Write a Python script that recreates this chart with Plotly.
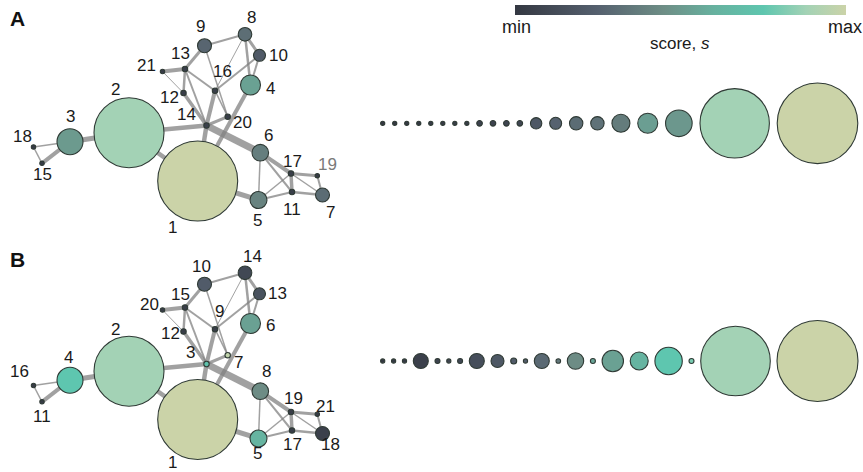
import plotly.graph_objects as go

# ---- node layout (shared by both panels), pixel units ----
node_x = [197.7, 129.0, 70.0, 250.5, 258.5, 260.3, 322.5, 245.0, 204.5, 259.5, 292.0,
          183.5, 185.0, 206.5, 42.0, 215.0, 291.0, 33.5, 317.3, 227.7, 162.5]
node_y = [181.0, 132.7, 141.7, 85.0, 200.0, 152.7, 195.0, 34.3, 45.7, 55.3, 192.0,
          93.0, 69.0, 125.5, 163.3, 90.7, 173.5, 147.0, 175.7, 116.7, 71.5]
# node radius (px)
node_r = [40, 35, 13, 10, 8.5, 8.3, 7, 6.8, 7, 6, 2.7,
          2.7, 2.7, 2.7, 2.2, 2.7, 2.7, 2.2, 2.2, 2.7, 2.2]

# ---- node labels and scores per panel ----
labels_A = [str(i) for i in range(1, 22)]
labels_B = ["1", "2", "4", "6", "5", "8", "18", "14", "10", "13", "17",
            "12", "15", "3", "11", "9", "19", "16", "21", "7", "20"]
score_A = [1.0, 0.88, 0.50, 0.53, 0.40, 0.38, 0.30, 0.31, 0.27, 0.21, 0.04,
           0.04, 0.04, 0.05, 0.02, 0.04, 0.04, 0.02, 0.02, 0.04, 0.02]
score_B = [1.0, 0.88, 0.75, 0.53, 0.62, 0.44, 0.05, 0.10, 0.22, 0.16, 0.03,
           0.03, 0.03, 0.72, 0.02, 0.03, 0.03, 0.02, 0.02, 0.97, 0.02]

# ---- edges (1-based node indices) with line widths ----
edges = [(18, 15, 1.5), (18, 3, 1.5), (15, 3, 4), (3, 2, 5), (2, 14, 4.5), (2, 1, 4.5),
         (14, 1, 4.5), (16, 14, 4), (4, 1, 4), (14, 6, 7), (14, 20, 3), (16, 20, 1.5),
         (12, 14, 3.5), (13, 12, 2.5), (13, 14, 2), (13, 16, 2), (21, 13, 4), (21, 12, 1),
         (9, 13, 3), (9, 8, 2), (9, 20, 1.5), (8, 16, 1), (8, 4, 2.5), (8, 10, 3),
         (10, 4, 2), (10, 16, 2), (6, 17, 4), (6, 5, 1.5), (6, 11, 2), (17, 11, 3.5),
         (17, 19, 3), (17, 7, 1.5), (19, 7, 2), (17, 5, 1.5), (11, 5, 2), (11, 7, 2.5),
         (5, 1, 5)]

# ---- label offsets from node centre (px) ----
lab_dx_A = [-25, -14, 0, 20, -1, 8, 8, 6, -4, 19, 0, -14, -5, -20, 0, 7, 1, -11, 10, 15, -16]
lab_dy_A = [46, -43, -25, 3, 20, -17, 17, -17, -19, 0, 17, 4, -16, -11, 11, -19, -12, -11, -11, 6, -6]
lab_dx_B = [-25, -14, -2, 20, -1, 6, 8, 7, -3, 18, 0, -13, -5, -16, 0, 4, 2, -14, 8, 11, -13]
lab_dy_B = [43, -42, -23, 2, 15, -20, 11, -16, -18, 0, 14, 2, -13, -12, 15, -18, -14, -14, -8, 7, -6]
lab_col_A = ["#1a1a1a"] * 18 + ["#7a7a7a"] + ["#1a1a1a"] * 2
lab_col_B = ["#1a1a1a"] * 21

# ---- ranked score rows (radius, score) ----
row_r_A = [2.1, 2.1, 2.1, 2.1, 2.1, 2.1, 2.1, 2.1, 2.8, 2.8, 2.8, 2.8,
           5.7, 6, 6.7, 6.7, 9, 10, 13.3, 34.7, 40.3]
row_s_A = [0.0, 0.0, 0.01, 0.01, 0.02, 0.02, 0.03, 0.03, 0.06, 0.07, 0.08, 0.09,
           0.20, 0.26, 0.30, 0.33, 0.37, 0.52, 0.49, 0.88, 1.0]
row_r_B = [2.1, 2.1, 2.1, 7.5, 2.5, 2.1, 2.5, 7.5, 6.5, 3, 2.1, 7.5, 2.3, 8.2, 2.5,
           10.7, 9, 13.7, 2.5, 34.8, 40.5]
row_s_B = [0.0, 0.01, 0.02, 0.05, 0.07, 0.08, 0.1, 0.14, 0.2, 0.22, 0.24, 0.29, 0.35,
           0.44, 0.55, 0.53, 0.62, 0.75, 0.8, 0.88, 1.0]

colorscale = [[0.0, "#343842"], [0.25, "#55606e"], [0.45, "#6e8e86"], [0.6, "#67b19f"],
              [0.75, "#5ec6af"], [0.88, "#a3d2b5"], [1.0, "#cbd3a8"]]

W, H = 863, 472
panel_dy = {"A": 0.0, "B": 238.5}
row_y = {"A": 123.3, "B": 361.0}
row_x0, row_x1 = 382.7, 817.5
bar_x0, bar_x1 = 515, 846
OUTLINE = "#2f3a35"

fig = go.Figure()


def add_network(tag, labels, scores, dxs, dys, cols):
    oy = panel_dy[tag]
    for a, b, w in edges:
        fig.add_trace(go.Scatter(
            x=[node_x[a - 1], node_x[b - 1]], y=[node_y[a - 1] + oy, node_y[b - 1] + oy],
            mode="lines", line=dict(color="rgba(130,130,130,0.75)", width=w),
            hoverinfo="skip", showlegend=False))
    fig.add_trace(go.Scatter(
        x=node_x, y=[v + oy for v in node_y], mode="markers",
        marker=dict(size=[2 * r for r in node_r], color=scores, coloraxis="coloraxis",
                    line=dict(color=OUTLINE, width=1.1), opacity=1),
        hoverinfo="skip", showlegend=False))
    for i, t in enumerate(labels):
        fig.add_annotation(x=node_x[i] + dxs[i], y=node_y[i] + oy + dys[i], text=t,
                           showarrow=False, font=dict(size=17, color=cols[i]),
                           xanchor="center", yanchor="middle")


def add_row(tag, radii, scores):
    n = len(radii)
    span = sum(radii[i] + radii[i + 1] for i in range(n - 1))
    gap = (row_x1 - row_x0 - span) / (n - 1)
    xs = [row_x0]
    for i in range(1, n):
        xs.append(xs[-1] + radii[i - 1] + radii[i] + gap)
    fig.add_trace(go.Scatter(
        x=xs, y=[row_y[tag]] * n, mode="markers",
        marker=dict(size=[2 * r for r in radii], color=scores, coloraxis="coloraxis",
                    line=dict(color=OUTLINE, width=1.1), opacity=1),
        hoverinfo="skip", showlegend=False))


add_network("A", labels_A, score_A, lab_dx_A, lab_dy_A, lab_col_A)
add_network("B", labels_B, score_B, lab_dx_B, lab_dy_B, lab_col_B)
add_row("A", row_r_A, row_s_A)
add_row("B", row_r_B, row_s_B)

for tag, y in (("A", 18), ("B", 259)):
    fig.add_annotation(x=17, y=y, text="<b>%s</b>" % tag, showarrow=False,
                       font=dict(size=21, color="#111111"), xanchor="center", yanchor="middle")

# colour bar end labels and caption
fig.add_annotation(x=bar_x0 + 1, y=27, text="min", showarrow=False,
                   font=dict(size=18, color="#1a1a1a"), xanchor="center", yanchor="middle")
fig.add_annotation(x=bar_x1 - 1, y=27, text="max", showarrow=False,
                   font=dict(size=18, color="#1a1a1a"), xanchor="center", yanchor="middle")
fig.add_annotation(x=680, y=43, text="score, <i>s</i>", showarrow=False,
                   font=dict(size=17, color="#1a1a1a"), xanchor="center", yanchor="middle")

fig.update_layout(
    width=W, height=H, margin=dict(l=0, r=0, t=0, b=0),
    paper_bgcolor="white", plot_bgcolor="white",
    font=dict(family="Liberation Sans, Arial, sans-serif", color="#1a1a1a"),
    xaxis=dict(range=[0, W], visible=False, fixedrange=True),
    yaxis=dict(range=[H, 0], visible=False, fixedrange=True),
    coloraxis=dict(
        colorscale=colorscale, cmin=0, cmax=1,
        colorbar=dict(
            orientation="h", x=(bar_x0 + bar_x1) / 2 / W, xanchor="center",
            y=1 - 4.5 / H, yanchor="top", lenmode="pixels", len=bar_x1 - bar_x0,
            thickness=10, outlinewidth=0, xpad=0, ypad=0,
            showticklabels=False, ticks="")),
)

fig.write_html("out.html")
